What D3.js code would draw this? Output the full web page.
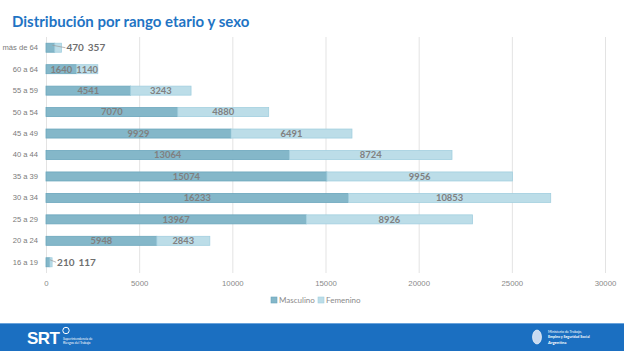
<!DOCTYPE html>
<html>
<head>
<meta charset="utf-8">
<script src="https://cdn.jsdelivr.net/npm/d3@7"></script>
<style>
  body { margin: 0; background: #fff; }
  svg { display: block; font-family: Lato, "Open Sans", "Liberation Sans", sans-serif; }
</style>
</head>
<body>
<svg width="624" height="351"></svg>
<script>
const categories = ['más de 64', '60 a 64', '55 a 59', '50 a 54', '45 a 49', '40 a 44',
  '35 a 39', '30 a 34', '25 a 29', '20 a 24', '16 a 19'];
const masculino = [470, 1640, 4541, 7070, 9929, 13064, 15074, 16233, 13967, 5948, 210];
const femenino  = [357, 1140, 3243, 4880, 6491, 8724, 9956, 10853, 8926, 2843, 117];
const xTicks = [0, 5000, 10000, 15000, 20000, 25000, 30000];
const seriesNames = ['Masculino', 'Femenino'];

const svg = d3.select('svg');
const width = +svg.attr('width');
const height = +svg.attr('height');

const colors = { Masculino: '#84b7c9', Femenino: '#bcdde8' };
const strokes = { Masculino: '#6aa6bc', Femenino: '#a2cfdf' };

// title
svg.append('text')
  .attr('x', 12).attr('y', 27)
  .attr('fill', '#1f74c4')
  .attr('font-size', 15).attr('font-weight', 'bold')
  .text('Distribución por rango etario y sexo');

const margin = { top: 37, left: 46, right: 19, bottom: 78 };
const innerWidth = width - margin.left - margin.right;
const innerHeight = height - margin.top - margin.bottom;

const root = svg.append('g')
  .attr('transform', `translate(${margin.left}, ${margin.top})`);

const xScale = d3.scaleLinear().domain([0, 30000]).range([0, innerWidth]);
const yScale = d3.scaleBand().domain(categories).range([0, innerHeight]).paddingInner(0.58).paddingOuter(0.29);

// gridlines + ticks
const xAxis = d3.axisBottom(xScale).tickValues(xTicks).tickSize(-innerHeight).tickPadding(7).tickFormat(d3.format('d'));
const xg = root.append('g').attr('transform', `translate(0, ${innerHeight})`).call(xAxis);
xg.select('.domain').remove();
xg.selectAll('line').attr('stroke', '#e3e3e3');
xg.selectAll('text').attr('fill', '#8a8a8a').attr('font-size', 7.8).style('font-family', 'inherit');

const yAxis = d3.axisLeft(yScale).tickSize(0).tickPadding(8);
const yg = root.append('g').call(yAxis);
yg.select('.domain').remove();
yg.selectAll('text').attr('fill', '#7a7a7a').attr('font-size', 7.6).style('font-family', 'inherit');

const stackData = categories.map((c, i) => ({ cat: c, Masculino: masculino[i], Femenino: femenino[i] }));
const series = d3.stack().keys(seriesNames)(stackData);

series.forEach(s => {
  root.append('g').selectAll('rect')
    .data(s)
    .enter().append('rect')
      .attr('x', d => xScale(d[0]))
      .attr('y', d => yScale(d.data.cat))
      .attr('width', d => xScale(d[1]) - xScale(d[0]))
      .attr('height', yScale.bandwidth())
      .attr('fill', colors[s.key])
      .attr('stroke', strokes[s.key])
      .attr('stroke-width', 0.8);
});

// labels
const labelSize = 9.4;
stackData.forEach((d, i) => {
  const cy = yScale(d.cat) + yScale.bandwidth() / 2;
  const total = d.Masculino + d.Femenino;
  if (xScale(total) < 30) {
    // small bars: labels outside with leader line
    const endX = xScale(total);
    const lx = endX + 4;
    root.append('line')
      .attr('x1', xScale(d.Masculino / 2) + 2).attr('y1', cy - 2.5)
      .attr('x2', lx).attr('y2', cy)
      .attr('stroke', '#9a9a9a').attr('stroke-width', 0.7);
    const t1 = root.append('text')
      .attr('x', lx + 1).attr('y', cy).attr('dy', '0.35em')
      .attr('fill', '#6f6f6f').attr('font-size', labelSize + 0.6).attr('font-weight', 'bold')
      .text(d.Masculino);
    const w1 = t1.node().getComputedTextLength();
    root.append('text')
      .attr('x', lx + 1 + w1 + 4).attr('y', cy).attr('dy', '0.35em')
      .attr('fill', '#6f6f6f').attr('font-size', labelSize + 0.6).attr('font-weight', 'bold')
      .text(d.Femenino);
  } else {
    root.append('text')
      .attr('x', xScale(d.Masculino / 2)).attr('y', cy).attr('dy', '0.36em')
      .attr('text-anchor', 'middle')
      .attr('fill', '#808080').attr('font-size', labelSize).attr('font-weight', 'bold')
      .text(d.Masculino);
    root.append('text')
      .attr('x', xScale(d.Masculino + d.Femenino / 2)).attr('y', cy).attr('dy', '0.36em')
      .attr('text-anchor', 'middle')
      .attr('fill', '#808080').attr('font-size', labelSize).attr('font-weight', 'bold')
      .text(d.Femenino);
  }
});

// legend
const legend = svg.append('g').attr('transform', 'translate(271, 300)');
seriesNames.forEach((name, i) => {
  const g = legend.append('g').attr('transform', `translate(${i * 47}, 0)`);
  g.append('rect').attr('x', 0).attr('y', -3).attr('width', 6).attr('height', 6)
    .attr('fill', colors[name]).attr('stroke', strokes[name]).attr('stroke-width', 0.6);
  g.append('text').attr('x', 8).attr('y', 0).attr('dy', '0.33em')
    .attr('fill', '#8a8a8a').attr('font-size', 8).text(name);
});

// footer
const footer = svg.append('g').attr('transform', 'translate(0, 323)');
footer.append('rect').attr('width', width).attr('height', 28).attr('fill', '#1b6fc1');
footer.append('rect').attr('width', width).attr('height', 1).attr('fill', '#6aa3db');
footer.append('text').attr('x', 27).attr('y', 21)
  .attr('fill', '#fff').attr('font-size', 17).attr('font-weight', 'bold')
  .attr('font-family', 'Liberation Sans, sans-serif').attr('letter-spacing', -0.5).text('SRT');
footer.append('circle').attr('cx', 66).attr('cy', 7.5).attr('r', 3.2)
  .attr('fill', 'none').attr('stroke', '#fff').attr('stroke-width', 1);
footer.append('text').attr('x', 63).attr('y', 16.5).attr('fill', '#fff').attr('font-size', 3.3).text('Superintendencia de');
footer.append('text').attr('x', 63).attr('y', 20.5).attr('fill', '#fff').attr('font-size', 3.3).text('Riesgos del Trabajo');

footer.append('ellipse').attr('cx', 537).attr('cy', 14).attr('rx', 4.5).attr('ry', 7)
  .attr('fill', '#c9daf0').attr('stroke', '#fff').attr('stroke-width', 0.6);
footer.append('text').attr('x', 548).attr('y', 10).attr('fill', '#fff').attr('font-size', 3.6).text('Ministerio de Trabajo,');
footer.append('text').attr('x', 548).attr('y', 15).attr('fill', '#fff').attr('font-size', 3.6).attr('font-weight', 'bold').text('Empleo y Seguridad Social');
footer.append('text').attr('x', 548).attr('y', 20.5).attr('fill', '#fff').attr('font-size', 4.2).attr('font-weight', 'bold').text('Argentina');
</script>
</body>
</html>
